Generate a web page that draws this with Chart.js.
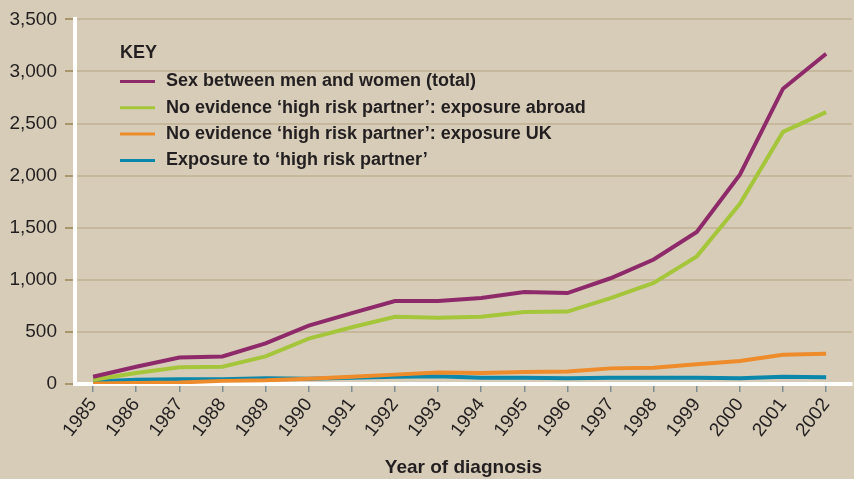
<!DOCTYPE html>
<html>
<head>
<meta charset="utf-8">
<script src="https://cdn.jsdelivr.net/npm/chart.js@4.4.0/dist/chart.umd.min.js"></script>
<style>
  html, body { margin: 0; padding: 0; background: #d6ccb8; }
  canvas { display: block; }
</style>
</head>
<body>
<canvas id="myChart" width="854" height="479"></canvas>
<script>
const years = [1985, 1986, 1987, 1988, 1989, 1990, 1991, 1992, 1993, 1994, 1995, 1996, 1997, 1998, 1999, 2000, 2001, 2002];

const totalHet = [70, 165, 255, 265, 390, 560, 680, 797, 797, 825, 882, 873, 1015, 1195, 1460, 2010, 2835, 3170];
const abroad = [40, 105, 160, 165, 265, 435, 545, 645, 635, 645, 690, 695, 825, 970, 1225, 1730, 2420, 2610];
const ukNoRisk = [5, 10, 15, 30, 35, 50, 70, 90, 110, 105, 115, 120, 150, 155, 190, 220, 280, 290];
const highRisk = [25, 40, 45, 45, 55, 50, 60, 70, 75, 60, 60, 55, 60, 60, 60, 55, 70, 65];

const seriesLabels = [
    "Sex between men and women (total)",
    "No evidence \u2018high risk partner\u2019: exposure abroad",
    "No evidence \u2018high risk partner\u2019: exposure UK",
    "Exposure to \u2018high risk partner\u2019"
];
const seriesColors = ["#8e2a6a", "#a5c63b", "#ee8b2b", "#0a87aa"];
const seriesValues = [totalHet, abroad, ukNoRisk, highRisk];

const textColor = "#231f20";
const fontFamily = "'Liberation Sans', Arial, Helvetica, sans-serif";

const toPoints = (vals) => vals.map((v, i) => ({ x: years[i], y: v }));

// legend drawn inside the plot, grid lines run through it
const keyPlugin = {
    id: "keyBox",
    afterDraw(chart) {
        const ctx = chart.ctx;
        ctx.save();
        ctx.font = "bold 18px " + fontFamily;
        ctx.fillStyle = textColor;
        ctx.textBaseline = "middle";
        ctx.textAlign = "left";
        ctx.fillText("KEY", 120, 53);
        chart.data.datasets.forEach((ds, i) => {
            const y = 81.5 + 26.3 * i;
            ctx.strokeStyle = ds.borderColor;
            ctx.lineWidth = 3;
            ctx.beginPath();
            ctx.moveTo(120, y);
            ctx.lineTo(155, y);
            ctx.stroke();
            ctx.fillStyle = textColor;
            ctx.fillText(ds.label, 166, y);
        });
        ctx.restore();
    }
};

const data = {
    datasets: seriesValues.map((vals, i) => ({
        label: seriesLabels[i],
        data: toPoints(vals),
        borderColor: seriesColors[i],
        backgroundColor: seriesColors[i],
        borderWidth: 4,
        pointRadius: 0,
        tension: 0
    }))
};

const config = {
    type: "line",
    data,
    options: {
        responsive: false,
        animation: false,
        layout: { padding: { top: 4, right: 2, left: 0, bottom: 0 } },
        plugins: {
            legend: { display: false },
            tooltip: { enabled: false }
        },
        scales: {
            x: {
                type: "linear",
                min: 1984.58,
                max: 2002.6,
                afterBuildTicks: (scale) => {
                    scale.ticks = years.map(v => ({ value: v }));
                },
                afterFit: (scale) => { scale.height = 95; },
                ticks: {
                    color: textColor,
                    font: { family: fontFamily, size: 19 },
                    minRotation: 52,
                    maxRotation: 52,
                    padding: 2,
                    callback: (v) => String(v)
                },
                grid: {
                    drawOnChartArea: false,
                    tickLength: 8,
                    tickColor: "#7d8d94",
                    lineWidth: 1.5
                },
                border: { color: "#ffffff", width: 4 },
                title: {
                    display: true,
                    text: "Year of diagnosis",
                    color: textColor,
                    font: { family: fontFamily, size: 19, weight: "bold" },
                    padding: { top: 0, bottom: 0 }
                }
            },
            y: {
                min: 0,
                max: 3500,
                afterFit: (scale) => { scale.width = 75; },
                ticks: {
                    stepSize: 500,
                    color: textColor,
                    font: { family: fontFamily, size: 19 },
                    padding: 8
                },
                grid: {
                    color: "#c6b89c",
                    lineWidth: 2,
                    tickLength: 10,
                    tickColor: "#a8966c"
                },
                border: { color: "#ffffff", width: 4 }
            }
        }
    },
    plugins: [keyPlugin]
};

const ctx = document.getElementById("myChart");
const myChart = new Chart(ctx, config);
</script>
</body>
</html>
